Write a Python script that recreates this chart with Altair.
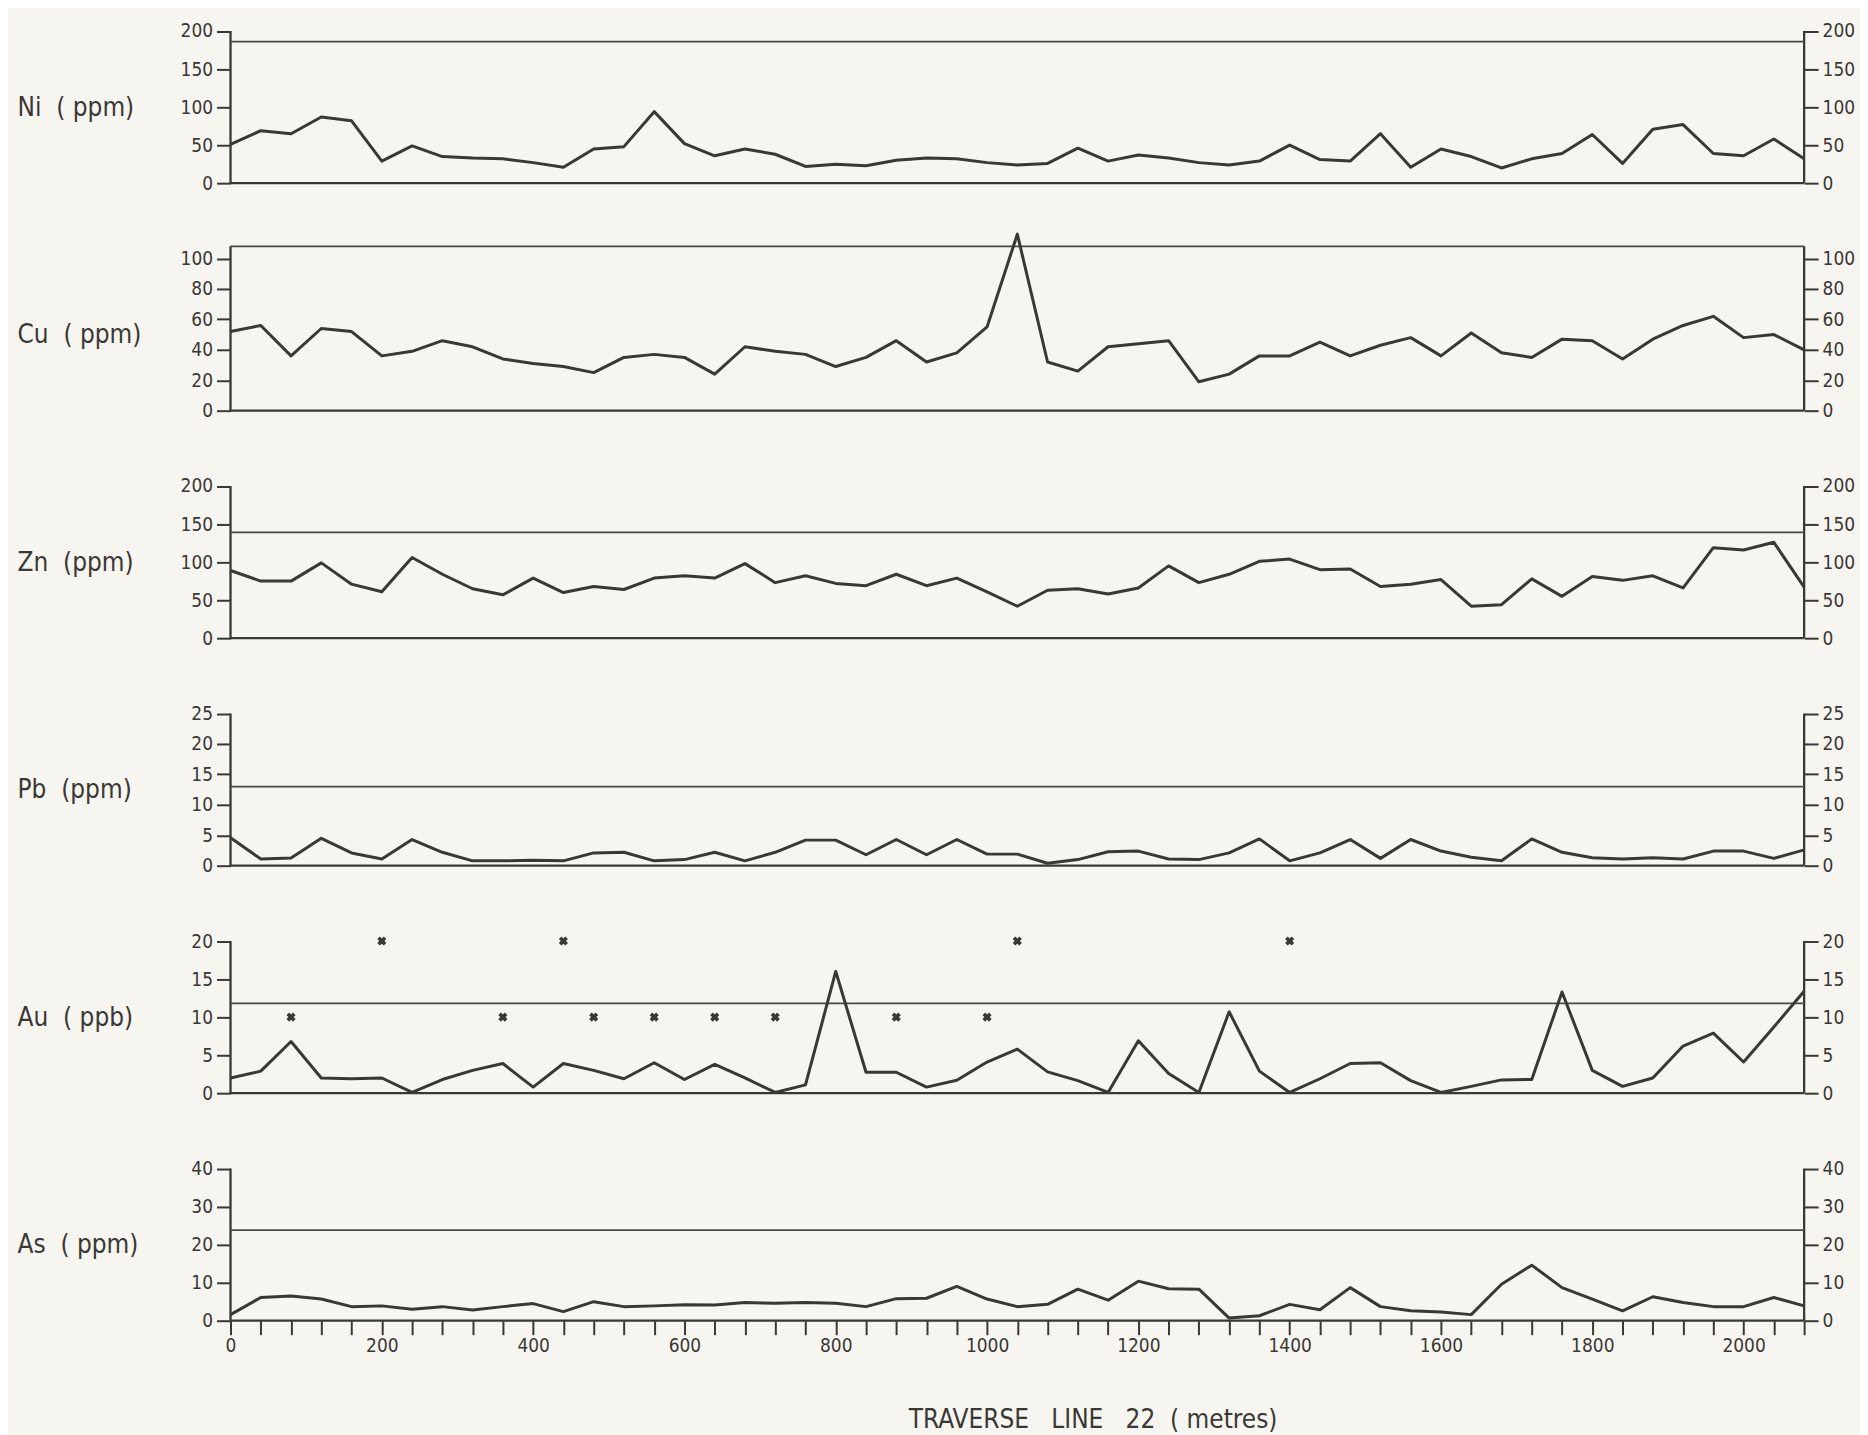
import altair as alt
import pandas as pd

# ---------------- data ----------------
distance = [0, 40, 80, 120, 160, 200, 240, 280, 320, 360, 400, 440, 480, 520, 560,
            600, 640, 680, 720, 760, 800, 840, 880, 920, 960, 1000, 1040, 1080,
            1120, 1160, 1200, 1240, 1280, 1320, 1360, 1400, 1440, 1480, 1520, 1560,
            1600, 1640, 1680, 1720, 1760, 1800, 1840, 1880, 1920, 1960, 2000, 2040, 2080]

ni = [51, 69, 65, 87, 82, 29, 49, 35, 33, 32, 27, 21, 45, 48, 94, 52, 36, 45, 38, 22,
      25, 23, 30, 33, 32, 27, 24, 26, 46, 29, 37, 33, 27, 24, 29, 50, 31, 29, 65, 21,
      45, 35, 20, 32, 39, 64, 26, 71, 77, 39, 36, 58, 32]

cu = [52, 56, 36, 54, 52, 36, 39, 46, 42, 34, 31, 29, 25, 35, 37, 35, 24, 42, 39, 37,
      29, 35, 46, 32, 38, 55, 116, 32, 26, 42, 44, 46, 19, 24, 36, 36, 45, 36, 43, 48,
      36, 51, 38, 35, 47, 46, 34, 47, 56, 62, 48, 50, 40]

zn = [89, 75, 75, 99, 71, 61, 106, 84, 65, 57, 79, 60, 68, 64, 79, 82, 79, 98, 73, 82,
      72, 69, 84, 69, 79, 61, 42, 63, 65, 58, 66, 95, 73, 84, 101, 104, 90, 91, 68, 71,
      77, 42, 44, 78, 55, 81, 76, 82, 66, 119, 116, 126, 67]

pb = [4.6, 1.1, 1.25, 4.5, 2.1, 1.1, 4.3, 2.2, 0.8, 0.8, 0.9, 0.8, 2.1, 2.2, 0.8, 1.0,
      2.2, 0.8, 2.2, 4.2, 4.2, 1.8, 4.3, 1.8, 4.3, 1.9, 1.9, 0.4, 1.0, 2.3, 2.4, 1.1,
      1.0, 2.1, 4.4, 0.8, 2.1, 4.3, 1.2, 4.3, 2.4, 1.4, 0.8, 4.4, 2.2, 1.3, 1.1, 1.3,
      1.1, 2.4, 2.4, 1.2, 2.6]

au = [2.0, 2.9, 6.8, 2.0, 1.9, 2.0, 0.1, 1.8, 3.0, 3.9, 0.8, 3.9, 3.0, 1.9, 4.0, 1.8,
      3.8, 2.0, 0.1, 1.1, 16.0, 2.75, 2.75, 0.8, 1.7, 4.1, 5.8, 2.8, 1.65, 0.1, 6.9,
      2.6, 0.1, 10.7, 2.9, 0.1, 1.9, 3.9, 4.0, 1.65, 0.1, 0.9, 1.75, 1.8, 13.3, 3.0,
      0.9, 2.0, 6.2, 7.9, 4.1, 8.7, 13.4]

as_ = [1.6, 6.1, 6.5, 5.7, 3.7, 3.9, 3.0, 3.7, 2.8, 3.7, 4.5, 2.4, 5.0, 3.7, 3.9, 4.2,
       4.1, 4.8, 4.6, 4.8, 4.6, 3.7, 5.8, 5.9, 9.0, 5.7, 3.7, 4.3, 8.3, 5.4, 10.4, 8.4,
       8.3, 0.7, 1.3, 4.3, 2.9, 8.7, 3.7, 2.6, 2.3, 1.6, 9.6, 14.6, 8.7, 5.7, 2.6, 6.3,
       4.8, 3.7, 3.7, 6.1, 3.9]

# Au marks drawn as "x"
au_x_pos = [80, 360, 480, 560, 640, 720, 880, 1000, 200, 440, 1040, 1400]
au_x_val = [10, 10, 10, 10, 10, 10, 10, 10, 20, 20, 20, 20]

row_labels = ["Ni\u00a0\u00a0(\u00a0ppm)", "Cu\u00a0\u00a0(\u00a0ppm)", "Zn\u00a0\u00a0(ppm)",
              "Pb\u00a0\u00a0(ppm)", "Au\u00a0\u00a0(\u00a0ppb)", "As\u00a0\u00a0(\u00a0ppm)"]
series = [ni, cu, zn, pb, au, as_]
tick_values = [[0, 50, 100, 150, 200], [0, 20, 40, 60, 80, 100], [0, 50, 100, 150, 200],
               [0, 5, 10, 15, 20, 25], [0, 5, 10, 15, 20], [0, 10, 20, 30, 40]]
axis_top = [200, 108, 200, 25, 20, 40]
thresholds = [186, 108, 139, 13, 11.8, 23.8]
nominal = [200, 100, 200, 25, 20, 40]
x_title = "TRAVERSE\u00a0\u00a0\u00a0LINE\u00a0\u00a0\u00a022\u00a0\u00a0(\u00a0metres)"

# ---------------- style ----------------
INK = "#3a3835"
BG = "#f7f5ef"
FONT = "DejaVu Sans Condensed, Liberation Sans Narrow, DejaVu Sans, sans-serif"
W = 1577
UNIT_PX = 152.5      # pixels for the nominal range of every panel
SLOT = 228           # distance between successive zero lines
FIRST_H = 165
X_MAX = 2080

panels = []
for k in range(6):
    h = FIRST_H if k == 0 else SLOT
    dom_top = nominal[k] * h / UNIT_PX
    yscale = alt.Scale(domain=[0, dom_top], nice=False, zero=False)
    xscale = alt.Scale(domain=[0, X_MAX], nice=False, zero=False)
    bottom = (k == 5)

    df = pd.DataFrame({"d": distance, "v": series[k]})
    frame = pd.DataFrame({"x": [0, X_MAX, 0], "x2": [0, X_MAX, X_MAX],
                          "y": [0, 0, 0], "y2": [axis_top[k], axis_top[k], 0]})
    thr = pd.DataFrame({"x": [0], "x2": [X_MAX], "y": [thresholds[k]]})

    if bottom:
        xaxis = alt.Axis(values=distance, format="d",
                         labelExpr="datum.value % 200 == 0 ? datum.label : ''",
                         tickSize=14, tickWidth=2, tickColor=INK, domain=False,
                         labelPadding=2, labelFontSize=19, labelFont=FONT,
                         labelColor=INK, labelFlush=False, grid=False,
                         title=x_title, titleFont=FONT, titleFontSize=26,
                         titleFontWeight="normal", titleColor=INK,
                         titleX=864, titleY=99, titleBaseline="middle")
    else:
        xaxis = None

    ty = (h - UNIT_PX / 2)
    left_axis = alt.Axis(values=tick_values[k], orient="left", tickSize=14,
                         tickWidth=2, tickColor=INK, domain=False, grid=False,
                         labelPadding=4, labelFontSize=19, labelFont=FONT,
                         labelColor=INK, labelFlush=False,
                         title=row_labels[k], titleAngle=0, titleAlign="left",
                         titleBaseline="middle", titleX=-214, titleY=ty,
                         titleFont=FONT, titleFontSize=26, titleFontWeight="normal",
                         titleColor=INK)
    right_axis = alt.Axis(values=tick_values[k], orient="right", tickSize=14,
                          tickWidth=2, tickColor=INK, domain=False, grid=False,
                          labelPadding=4, labelFontSize=19, labelFont=FONT,
                          labelColor=INK, labelFlush=False, title=None)

    frame_layer = alt.Chart(frame).mark_rule(color=INK, strokeWidth=2.3).encode(
        x=alt.X("x:Q", scale=xscale, axis=None), x2="x2:Q",
        y=alt.Y("y:Q", scale=yscale, axis=None), y2="y2:Q")
    thr_layer = alt.Chart(thr).mark_rule(color="#4a4846", strokeWidth=1.8).encode(
        x=alt.X("x:Q", scale=xscale, axis=None), x2="x2:Q",
        y=alt.Y("y:Q", scale=yscale, axis=right_axis))
    line_layer = alt.Chart(df).mark_line(color=INK, strokeWidth=3,
                                         strokeJoin="round").encode(
        x=alt.X("d:Q", scale=xscale, axis=xaxis),
        y=alt.Y("v:Q", scale=yscale, axis=left_axis))
    layers = [frame_layer, thr_layer, line_layer]
    if k == 4:
        cross = pd.DataFrame({"d": au_x_pos, "v": au_x_val})
        layers.append(alt.Chart(cross).mark_point(shape="cross", angle=45, filled=True,
                                                  size=85, color=INK, opacity=1).encode(
            x=alt.X("d:Q", scale=xscale, axis=None),
            y=alt.Y("v:Q", scale=yscale, axis=None)))
    panel = alt.layer(*layers).resolve_axis(
        x="independent", y="independent").properties(width=W, height=h)
    panels.append(panel)

chart = alt.vconcat(*panels, spacing=0, bounds="flush").configure(
    background=BG, padding={"left": 8, "top": 8, "right": 4, "bottom": 4}
).configure_view(stroke="transparent")

chart.save("out.html", embed_options={"renderer": "svg", "actions": False})
